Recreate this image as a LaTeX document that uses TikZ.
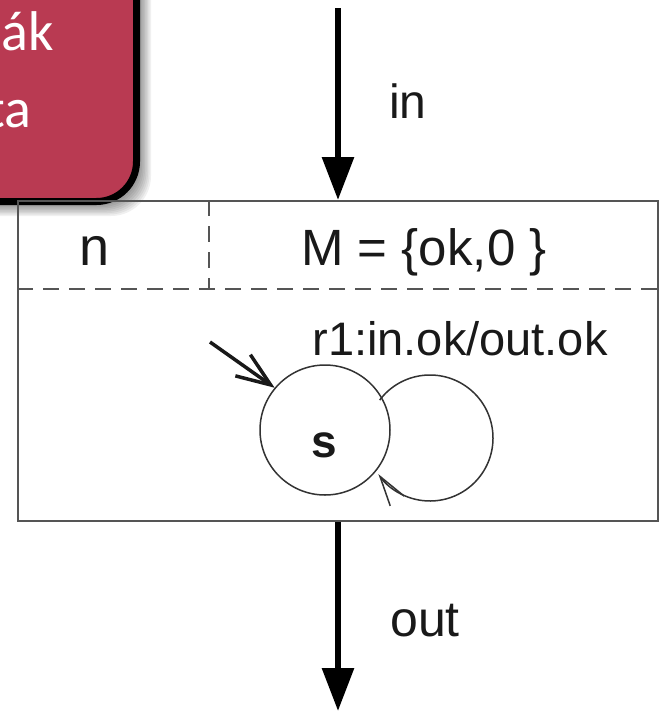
\documentclass[tikz,border=0pt]{standalone}
\usepackage{fontspec}
\setmainfont{Liberation Sans}
\newfontfamily\slidefont{Carlito}
\usepackage{tikz}
\usetikzlibrary{positioning,arrows.meta,calc}
\definecolor{slidered}{RGB}{185,58,82}
\definecolor{framegray}{RGB}{85,85,85}

\begin{document}
\begin{tikzpicture}[x=1pt, y=-1pt,
    lbl/.style={inner sep=0pt, text=black!90, anchor=base},
    flow/.style={line width=6pt, -{Triangle[length=43pt, width=31pt]}},
    state/.style={circle, draw=black!80, line width=1.5pt, minimum size=130pt, inner sep=0pt},
    sep/.style={framegray, line width=1.5pt, dash pattern=on 16pt off 10pt}]
  \useasboundingbox[clip] (0,0) rectangle (662,712);
  % Title box, cut off at the left edge
  \foreach \k in {1,...,8}
    \fill[black, opacity=0.06, rounded corners=40pt] (-80,-80) rectangle (139+1.5*\k,204+1.5*\k);
  \draw[line width=7pt, fill=slidered, rounded corners=40pt] (-80,-80) rectangle (136.5,201.5);
  \node[lbl, anchor=base east, text=white, font=\slidefont\fontsize{56}{60}\selectfont] (titleA) at (54,50) {ák};
  \node[lbl, anchor=base east, text=white, font=\slidefont\fontsize{56}{60}\selectfont] (titleB) at (32,127) {ta};
  % Component frame
  \node[draw=framegray, line width=2pt, minimum width=640pt, minimum height=320pt, inner sep=0pt] (comp) at (338,361) {};
  \path (comp.north west) ++(0,89) coordinate (sepL)
        (comp.north east) ++(0,89) coordinate (sepR)
        (comp.north west) ++(192,0) coordinate (divT)
        (divT) ++(0,89) coordinate (divB);
  \draw[sep] (sepL) -- (sepR);
  \draw[sep] (divT) -- (divB);
  \node[lbl, font=\fontsize{54}{60}\selectfont] (nname) at (95,265) {n};
  \node[lbl, font=\fontsize{51}{60}\selectfont] (mset) at (424,265) {M = \{ok,0 \}};
  \node[lbl, font=\fontsize{47}{56}\selectfont] (rule) at (460,355) {r1:in.ok/out.ok};
  % Input and output ports
  \coordinate (inS) at (338,8);
  \coordinate (outE) at (338,711);
  \draw[flow] (inS) -- (comp.north);
  \draw[flow] (comp.south) -- (outE);
  \node[lbl, anchor=base west, font=\fontsize{48}{56}\selectfont] (inlbl) at (389,118) {in};
  \node[lbl, anchor=base west, font=\fontsize{50}{56}\selectfont] (outlbl) at (390,636) {out};
  % State machine
  \node[state] (s) at (325,430) {};
  \node[lbl, font=\bfseries\fontsize{46}{54}\selectfont] (sname) at (324,457) {s};
  \coordinate (sinit) at (210,342);
  \draw[black!90, line width=3.5pt, -{Straight Barb[length=34pt, width=26pt]}] (sinit) -- (s.140);
  \coordinate (loopc) at (430,438);
  \draw[black!80, line width=1.5pt, -{Straight Barb[length=30pt, width=17pt]}]
    (loopc) ++(-143:63) arc[start angle=-143, end angle=145, radius=63];
\end{tikzpicture}
\end{document}
